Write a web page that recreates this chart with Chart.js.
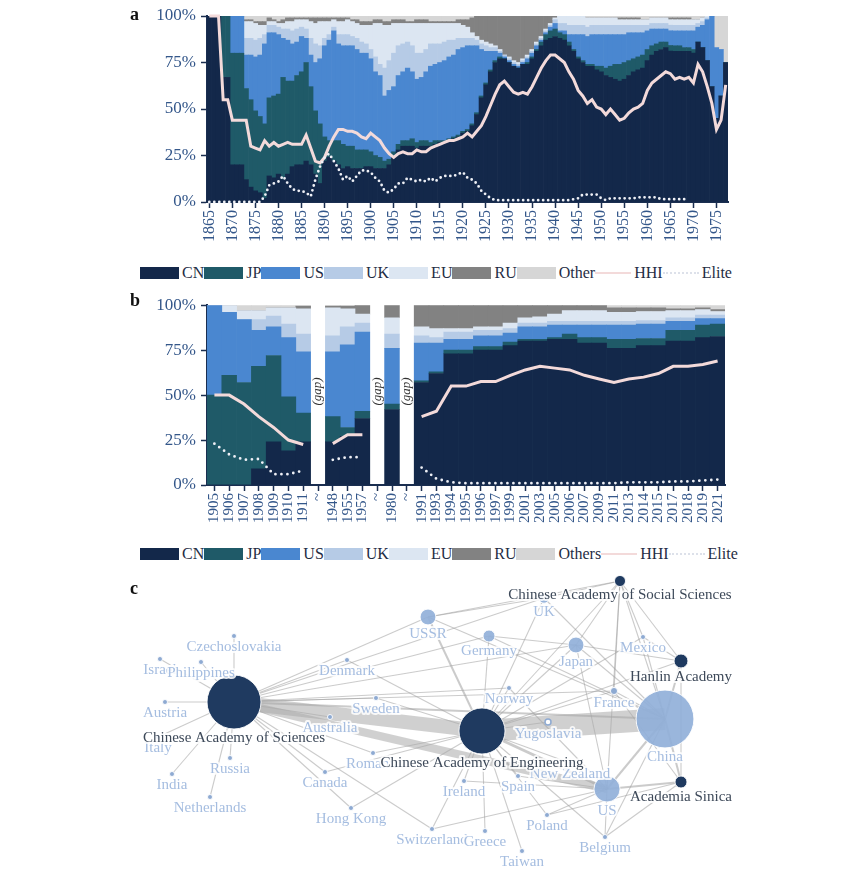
<!DOCTYPE html>
<html>
<head>
<meta charset="utf-8">
<script src="https://cdn.jsdelivr.net/npm/chart.js@4.4.1/dist/chart.umd.min.js"></script>
<style>
  html, body { margin: 0; padding: 0; background: #fff; }
  body { width: 864px; height: 872px; position: relative; overflow: hidden; font-family: "Liberation Serif", "DejaVu Serif", serif; }
  .box { position: absolute; }
  .letter { position: absolute; font-weight: bold; font-size: 18px; line-height: 20px; color: #111; z-index: 5; }
  .legend { position: absolute; left: 140px; width: 592px; height: 18px; display: flex; justify-content: space-between; align-items: center; font-size: 16px; color: #1f2d44; }
  .legend .item { display: flex; align-items: center; }
  .legend .sw { width: 39px; height: 12px; margin-right: 3px; }
  .legend .ln { width: 36px; height: 0; margin-right: 3px; }
</style>
</head>
<body>
<div class="letter" style="left:130px;top:4px">a</div>
<div class="box" style="left:130px;top:0;width:610px;height:262px"><canvas id="chartA"></canvas></div>
<div class="legend" id="legendA" style="top:264px"></div>

<div class="letter" style="left:130px;top:290px">b</div>
<div class="box" style="left:130px;top:290px;width:610px;height:252px"><canvas id="chartB"></canvas></div>
<div class="legend" id="legendB" style="top:545px"></div>

<div class="letter" style="left:130px;top:578px">c</div>
<div class="box" style="left:130px;top:575px;width:620px;height:297px"><canvas id="chartC"></canvas></div>

<script>
// ── Data: panel a (yearly shares, %) ─────────────────────
const YEARS_A = [
  1865,1866,1867,1868,1869,1870,1871,1872,1873,1874,
  1875,1876,1877,1878,1879,1880,1881,1882,1883,1884,
  1885,1886,1887,1888,1889,1890,1891,1892,1893,1894,
  1895,1896,1897,1898,1899,1900,1901,1902,1903,1904,
  1905,1906,1907,1908,1909,1910,1911,1912,1913,1914,
  1915,1916,1917,1918,1919,1920,1921,1922,1923,1924,
  1925,1926,1927,1928,1929,1930,1931,1932,1933,1934,
  1935,1936,1937,1938,1939,1940,1941,1942,1943,1944,
  1945,1946,1947,1948,1949,1950,1951,1952,1953,1954,
  1955,1956,1957,1958,1959,1960,1961,1962,1963,1964,
  1965,1966,1967,1968,1969,1970,1971,1972,1973,1974,
  1975,1976,1977];

const CN_A = [
  100,100,100,67,67,20,20,20,12,8,
  6,5,2,14,13,15,12,15,19,20,
  20,22,20,15,10,22,24,22,20,18,
  19,18,18,18,19,19,18,18,18,20,
  24,28,30,30,30,29,30,30,30,31,
  32,32,33,34,35,37,38,41,47,56,
  63,70,75,77,77,75,73,72,74,74,
  77,81,84,87,88,89,88,87,84,81,
  77,75,73,73,71,70,68,67,66,65,
  66,68,70,71,72,76,79,81,82,83,
  82,81,81,81,81,80,86,83,76,62,
  45,57,75];
const JP_A = [
  0,0,0,33,33,60,60,60,49,47,
  43,41,40,42,44,43,55,50,46,48,
  50,53,42,34,32,13,9,11,13,13,
  11,12,10,10,9,8,7,6,4,3,
  3,3,3,3,4,3,3,3,2,2,
  1,1,1,1,1,1,1,1,1,1,
  1,1,1,1,0,0,0,0,0,1,
  1,1,2,3,4,4,3,3,2,1,
  1,1,1,1,2,3,4,6,8,9,
  9,8,7,7,7,6,5,4,4,3,
  3,3,3,2,2,2,0,0,0,0,
  0,0,0];
const US_A = [
  0,0,0,0,0,20,20,20,18,24,
  29,33,43,35,34,32,21,22,20,18,
  19,13,17,26,35,49,54,59,52,53,
  54,54,54,52,52,50,45,44,35,37,
  35,37,37,39,36,34,34,37,41,41,
  42,43,44,44,46,45,45,42,36,25,
  17,10,5,2,1,1,1,1,1,2,
  2,2,1,1,2,3,1,2,4,8,
  12,14,15,16,17,17,18,17,16,16,
  15,15,14,13,12,10,9,8,7,7,
  8,8,8,9,9,10,8,12,22,38,
  38,25,0];
const UK_A = [
  0,0,0,0,0,0,0,0,9,9,
  9,9,5,4,4,4,5,6,7,7,
  5,5,9,10,7,4,3,2,5,6,
  6,5,6,6,5,5,8,6,15,16,
  18,16,15,14,14,14,13,12,12,11,
  10,10,9,8,6,5,4,4,3,3,
  3,2,2,1,1,1,1,1,1,1,
  1,1,1,1,1,2,4,4,5,5,
  5,5,5,5,5,5,5,5,5,5,
  5,4,4,4,4,3,3,3,3,3,
  3,3,3,3,3,3,2,2,1,0,
  0,0,0];
const EU_A = [
  0,0,0,0,0,0,0,0,9,9,
  9,7,5,2,2,2,3,4,5,5,
  4,5,9,11,13,9,7,4,7,7,
  8,8,8,9,10,13,18,22,23,19,
  16,12,11,10,12,16,16,14,11,11,
  11,10,9,9,8,7,6,3,2,2,
  2,2,1,1,0,1,1,1,1,1,
  1,1,1,1,1,1,4,4,5,5,
  5,5,5,4,4,4,4,4,4,3,
  3,3,3,3,3,3,3,3,3,3,
  3,3,3,3,3,3,2,2,1,0,
  0,0,0];
const RU_A = [
  0,0,0,0,0,0,0,0,1,1,
  1,2,2,2,1,1,2,2,2,1,
  1,1,2,3,2,2,2,1,2,2,
  1,1,2,2,2,2,2,2,2,2,
  2,2,2,1,1,2,2,2,1,1,
  1,1,1,1,2,3,4,8,11,13,
  14,15,16,18,21,22,24,25,23,21,
  18,14,11,7,4,1,0,0,0,0,
  0,0,0,0,0,0,0,0,0,1,
  1,1,1,1,0,0,0,0,0,0,
  1,1,1,1,1,0,0,0,0,0,
  0,0,0];
const OTHER_A = [
  0,0,0,0,0,0,0,0,2,2,
  3,3,3,1,2,3,2,1,1,1,
  1,1,1,1,1,1,1,1,1,1,
  1,2,2,3,3,3,2,2,3,3,
  2,2,2,3,3,2,2,2,3,3,
  3,3,3,3,2,2,2,1,0,0,
  0,0,0,0,0,0,0,0,0,0,
  0,0,0,0,0,0,0,0,0,0,
  0,0,1,1,1,1,1,1,1,1,
  1,1,1,1,2,2,1,1,1,1,
  1,1,1,1,1,2,2,1,0,0,
  17,18,25];
const HHI_A = [
  100,100,100,55,55,44,44,44,44,30,
  29,28,33,30,32,30,31,32,31,31,
  31,36,29,22,21,24,30,35,39,39,
  38,38,37,35,34,37,35,33,29,26,
  24,26,27,26,26,28,27,27,29,30,
  31,32,33,33,34,35,37,35,38,41,
  46,52,58,63,65,62,59,58,59,58,
  62,67,72,76,79,79,77,75,70,66,
  60,57,53,55,51,50,47,50,47,44,
  45,48,50,51,53,60,64,66,68,70,
  69,66,67,66,67,64,74,70,62,53,
  39,44,63];
const ELITE_A = [
  0,0,0,0,0,0,0,0,0,0,
  0,0,3,9,10,11,14,10,7,6,
  6,5,3,12,19,24,26,22,18,12,
  14,11,14,17,17,16,13,11,6,5,
  7,10,10,13,12,11,12,11,13,11,
  13,14,14,14,15,16,13,12,10,6,
  4,2,1,1,1,1,1,1,1,1,
  1,1,1,1,1,1,1,1,1,1.5,
  2,4,4,4,4,2,1,2,2,2,
  2,2,2,2.5,2.5,2.5,2.5,2.5,1.5,1.5,
  1.5,1.5,1.5,1.5,1.5,null,null,null,null,null,
  null,null,null];

// ── Data: panel b (selected years, %) ────────────────────
const LABELS_B = ['1905','1906','1907','1908','1909','1910','1911','~','1948','1955','1957','~','1980','~',
  '1991','1993','1994','1995','1996','1997','1999','2001','2003','2005','2006','2007','2009','2011',
  '2013','2014','2015','2017','2018','2019','2021'];
const CN_B    = [0,0,0,9,24,19,24,null,24,27,37,null,42,null,57,62,73,73,75,75,77.5,80,80,81,81,79,79,76,76,77.5,77.5,80,80,82,83];
const JP_B    = [50,61,57,57,48,30,16,null,14,5,4,null,3,null,1,1,2,2,2,2,2,1,1,1,3,3,3,5,5,4,4,6,6,7,7];
const US_B    = [50,35,35,20,16,33,34,null,36,46,44,null,31,null,21,16,6,6,6,6,5,7,7,7,5,7,7,8,8,8,8,5,5,3.5,3];
const UK_B    = [0,0,0,6,6,7.5,10,null,9,10,5,null,8,null,4,3,4,4,3,3,2.5,2,2,2,2,2,2,2,2,2,2,2,2,2,2];
const EU_B    = [0,4,5,5,4.5,9,14,null,15.5,10,5,null,9,null,5,5,2,2,2,2,3,3,3.5,4,6,6,6,5,5,5,5,4,4,3,2];
const RU_B    = [0,0,0,0,0,0,1.5,null,1,1.5,5,null,7,null,12,13,13,13,12,12,10,7,6.5,5,3,3,3,2.5,2.5,2,2,1,1,1,1];
const OTHER_B = [0,0,3,3,1.5,1.5,0.5,null,0.5,0.5,0,null,0,null,0,0,0,0,0,0,0,0,0,0,0,0,0,1.5,1.5,1.5,1.5,2,2,1.5,2.5];
const HHI_B   = [50,50,45,38,32,25,22.5,null,23,28,28,null,null,null,38,41,55,55,57.5,57.5,61,64,66,65,64,61,59,57,59,60,62,66,66,67,69];
const ELITE_B = [23,17,14,14.5,6,6,8,null,14,15.5,15.5,null,null,null,9.7,3.5,1.5,1,1,1,1,1,1,1,1,1,1,1,1.5,1.5,1.5,2,2,2.5,3];
const GAP_LABEL_LEVEL = 52;

const Y_TICKS = [0, 25, 50, 75, 100];

// ── Data: panel c (co-membership network) ────────────────
const NODE_IDS = ['CAS','CAE','China','US','Japan','USSR','Germany','UK','CASS','Hanlin','Sinica','Mexico',
  'France','Yugoslavia','Norway','NewZealand','Spain','Ireland','Poland','Belgium','Taiwan','Switzerland',
  'Greece','HongKong','Canada','Romania','Australia','Sweden','Denmark','Czechoslovakia','Israel',
  'Philippines','Austria','Italy','Russia','India','Netherlands'];
const NODE_LABELS = ['Chinese Academy of Sciences','Chinese Academy of Engineering','China','US','Japan','USSR',
  'Germany','UK','Chinese Academy of Social Sciences','Hanlin Academy','Academia Sinica','Mexico','France',
  'Yugoslavia','Norway','New Zealand','Spain','Ireland','Poland','Belgium','Taiwan','Switzerland','Greece',
  'Hong Kong','Canada','Romania','Australia','Sweden','Denmark','Czechoslovakia','Israel','Philippines',
  'Austria','Italy','Russia','India','Netherlands'];
const NODE_X = [104,352,535,477,446,298,359,414,490,551,551,513,484,418,379,440,388,334,417,475,392,302,355,221,195,243,200,246,217,104,30,71,35,28,100,42,80];
const NODE_Y = [127,156,144,214,70,42,61,23,6,86,207,62,116,147,113,188,201,206,240,262,276,254,256,233,197,178,142,123,85,61,84,87,127,162,183,199,222];
const NODE_WEIGHT = [81,59,93,19,7,7,4,3,3.4,5.4,4,0.7,1.4,1,0.7,0.7,0.7,0.7,0.7,0.7,0.7,0.7,0.7,0.7,0.7,0.7,0.7,0.7,0.7,0.7,0.7,0.7,0.7,0.7,0.7,0.7,0.7];
const NODE_KIND = ['inst','inst','country','country','country','country','country','country','inst','inst','inst',
  'minor','minor','hollow','minor','minor','minor','minor','minor','minor','minor','minor','minor','minor',
  'minor','minor','minor','minor','minor','minor','minor','minor','minor','minor','minor','minor','minor'];
const EDGES = [
  ['CAS','CAE',14], ['CAE','China',22], ['CAS','US',8], ['CAS','China',2], ['CAE','US',3], ['CAE','USSR',2],
  ['CAS','USSR',1], ['CAS','UK',1], ['CAS','Germany',1], ['CAS','Japan',1], ['CAS','Denmark',1], ['CAS','Sweden',1],
  ['CAS','Australia',1], ['CAS','Canada',1], ['CAS','Romania',1], ['CAS','HongKong',1], ['CAS','Switzerland',1],
  ['CAS','Czechoslovakia',1], ['CAS','Israel',1], ['CAS','Philippines',1], ['CAS','Austria',1], ['CAS','Italy',1],
  ['CAS','India',1], ['CAS','Russia',1], ['CAS','Netherlands',1], ['CAS','France',1], ['CAS','Norway',1],
  ['CAE','UK',1], ['CAE','Germany',1], ['CAE','Japan',1], ['CAE','Norway',1], ['CAE','France',1],
  ['CAE','Yugoslavia',1], ['CAE','Spain',1], ['CAE','Ireland',1], ['CAE','Greece',1], ['CAE','Taiwan',1],
  ['CAE','Poland',1], ['CAE','Belgium',1], ['CAE','HongKong',1], ['CAE','Switzerland',1], ['CAE','Romania',1],
  ['CAE','Mexico',1], ['CAE','CASS',1], ['CAE','Hanlin',1], ['CAE','Sweden',1], ['CAE','Canada',1],
  ['CAE','Denmark',1], ['CAE','NewZealand',1],
  ['China','CASS',1], ['China','Hanlin',2], ['China','Sinica',2], ['China','Japan',1], ['China','UK',1],
  ['China','France',1], ['China','Mexico',1], ['China','US',2], ['China','Belgium',1], ['China','Germany',1],
  ['China','USSR',1],
  ['CASS','UK',1], ['CASS','USSR',1], ['CASS','Japan',1], ['CASS','Mexico',1], ['CASS','US',1], ['CASS','France',1],
  ['CASS','Hanlin',1], ['Hanlin','Japan',1], ['Hanlin','Mexico',1], ['Hanlin','Sinica',1],
  ['Sinica','US',2], ['Sinica','Belgium',1], ['Sinica','France',1], ['Sinica','Poland',1],
  ['US','Belgium',1], ['US','Poland',1], ['US','Spain',1], ['US','Switzerland',1], ['US','Japan',1],
  ['US','Norway',1], ['US','Ireland',1], ['Japan','Germany',1], ['USSR','UK',1]
];

// ── Styles ───────────────────────────────────────
const FONT = '"Liberation Serif", "DejaVu Serif", serif';
const NAVY = '#1a2e50';
const TICK_COLOR = '#34578a';
const SERIES_COLORS = ['#13284a', '#1f5a68', '#4a87d0', '#b6cbe6', '#dce6f2', '#828282', '#d6d6d6'];
const HHI_COLOR = '#f3dada';
const ELITE_COLOR = '#eef0f6';

// scale each year's shares so the stack fills 100%
function normalize(list) {
  return list.map((s) => s.map((v, i) => {
    if (v == null) return null;
    const tot = list.reduce((a, t) => a + (t[i] || 0), 0);
    return tot ? (v / tot) * 100 : 0;
  }));
}

function barSets(names, list) {
  return normalize(list).map((data, i) => ({
    type: 'bar', label: names[i], data,
    backgroundColor: SERIES_COLORS[i], borderWidth: 0,
    barPercentage: 1, categoryPercentage: 1, stack: 'shares', order: 3,
  }));
}

function lineSets(hhi, elite, dotGap) {
  return [
    { type: 'line', label: 'HHI', data: hhi, stack: 'hhi', borderColor: HHI_COLOR, borderWidth: 3,
      pointRadius: 0, tension: 0, spanGaps: false, order: 1, clip: false },
    { type: 'line', label: 'Elite', data: elite, stack: 'elite', borderColor: ELITE_COLOR, borderWidth: 2.8,
      borderDash: [0, dotGap], borderCapStyle: 'round', pointRadius: 0, spanGaps: false, order: 0, clip: false },
  ];
}

function axisOptions({ xFont, xHeight, padding, xCallback }) {
  return {
    responsive: true, maintainAspectRatio: false, animation: false, events: [],
    layout: { padding },
    plugins: { legend: { display: false }, tooltip: { enabled: false } },
    scales: {
      x: {
        stacked: true, offset: true,
        grid: { display: true, offset: false, drawOnChartArea: false, drawTicks: true, tickLength: 6,
                tickColor: NAVY, tickWidth: 1.5 },
        border: { display: true, color: NAVY, width: 2 },
        ticks: { autoSkip: false, maxRotation: 90, minRotation: 90, padding: 2, color: TICK_COLOR,
                 font: { family: FONT, size: xFont }, callback: xCallback },
        afterFit: (s) => { s.height = xHeight; },
      },
      y: {
        stacked: true, min: 0, max: 100,
        afterBuildTicks: (s) => { s.ticks = Y_TICKS.map((v) => ({ value: v })); },
        ticks: { callback: (v) => v + '%', color: TICK_COLOR, padding: 5, font: { family: FONT, size: 17 } },
        grid: { drawOnChartArea: false, tickLength: 6, tickColor: NAVY, tickWidth: 1.5 },
        border: { display: true, color: NAVY, width: 2 },
        afterFit: (s) => { s.width = 77; },
      },
    },
  };
}

function buildLegend(id, names) {
  const el = document.getElementById(id);
  let html = names.map((n, i) =>
    `<span class="item"><span class="sw" style="background:${SERIES_COLORS[i]}"></span>${n}</span>`).join('');
  html += `<span class="item"><span class="ln" style="border-top:2px solid ${HHI_COLOR}"></span>HHI</span>`;
  html += `<span class="item"><span class="ln" style="border-top:2px dotted #dde1ea"></span>Elite</span>`;
  el.innerHTML = html;
}

// ── Panel a ───────────────────────────────────────
const NAMES_A = ['CN', 'JP', 'US', 'UK', 'EU', 'RU', 'Other'];
new Chart(document.getElementById('chartA'), {
  type: 'bar',
  data: {
    labels: YEARS_A,
    datasets: [
      ...barSets(NAMES_A, [CN_A, JP_A, US_A, UK_A, EU_A, RU_A, OTHER_A]),
      ...lineSets(HHI_A, ELITE_A, 5),
    ],
  },
  options: axisOptions({
    xFont: 16, xHeight: 60, padding: { top: 16, right: 12, left: 0, bottom: 0 },
    xCallback: (v, i) => (YEARS_A[i] % 5 === 0 ? String(YEARS_A[i]) : null),
  }),
});
buildLegend('legendA', NAMES_A);

// ── Panel b ───────────────────────────────────────
const gapLabels = {
  id: 'gapLabels',
  afterDatasetsDraw(chart) {
    const { ctx, scales: { x, y } } = chart;
    ctx.save();
    ctx.font = `italic 13px ${FONT}`;
    ctx.fillStyle = '#333';
    ctx.textAlign = 'center';
    ctx.textBaseline = 'middle';
    LABELS_B.forEach((l, i) => {
      if (l !== '~') return;
      ctx.save();
      ctx.translate(x.getPixelForValue(i), y.getPixelForValue(GAP_LABEL_LEVEL));
      ctx.rotate(-Math.PI / 2);
      ctx.fillText('(gap)', 0, 0);
      ctx.restore();
    });
    ctx.restore();
  },
};

const NAMES_B = ['CN', 'JP', 'US', 'UK', 'EU', 'RU', 'Others'];
new Chart(document.getElementById('chartB'), {
  type: 'bar',
  data: {
    labels: LABELS_B,
    datasets: [
      ...barSets(NAMES_B, [CN_B, JP_B, US_B, UK_B, EU_B, RU_B, OTHER_B]),
      ...lineSets(HHI_B, ELITE_B, 6),
    ],
  },
  options: axisOptions({
    xFont: 15, xHeight: 57, padding: { top: 12, right: 15, left: 0, bottom: 0 },
    xCallback: (v, i) => LABELS_B[i],
  }),
  plugins: [gapLabels],
});
buildLegend('legendB', NAMES_B);

// ── Panel c ───────────────────────────────────────
const KIND_FILL = { inst: '#1f3a60', country: 'rgba(145,176,217,0.92)', minor: '#8eaad2', hollow: '#ffffff' };
const radiusOf = (w) => 3 * Math.sqrt(w);
const idx = (id) => NODE_IDS.indexOf(id);

const edgeSets = EDGES.map(([a, b, w]) => ({
  type: 'line',
  data: [{ x: NODE_X[idx(a)], y: NODE_Y[idx(a)] }, { x: NODE_X[idx(b)], y: NODE_Y[idx(b)] }],
  borderColor: w >= 8 ? 'rgba(170,170,170,0.55)' : 'rgba(160,160,160,0.55)',
  borderWidth: w >= 8 ? w : Math.max(1.1, w),
  borderCapStyle: 'butt', pointRadius: 0, order: 2, clip: false,
}));

const nodeSet = {
  type: 'bubble',
  data: NODE_IDS.map((_, i) => ({ x: NODE_X[i], y: NODE_Y[i], r: radiusOf(NODE_WEIGHT[i]) })),
  backgroundColor: NODE_KIND.map((k) => KIND_FILL[k]),
  borderColor: NODE_KIND.map((k) => (k === 'hollow' ? '#8eaad2' : 'rgba(255,255,255,0.9)')),
  borderWidth: NODE_KIND.map((k) => (k === 'hollow' ? 1.5 : 1)),
  order: 1, clip: false,
};

const nodeLabels = {
  id: 'nodeLabels',
  afterDatasetsDraw(chart) {
    const { ctx, scales: { x, y } } = chart;
    ctx.save();
    ctx.font = `15px ${FONT}`;
    ctx.textAlign = 'center';
    ctx.textBaseline = 'middle';
    ctx.lineJoin = 'round';
    const draw = (i) => {
      const px = x.getPixelForValue(NODE_X[i]);
      const py = y.getPixelForValue(NODE_Y[i]) + radiusOf(NODE_WEIGHT[i]) + 9;
      ctx.strokeStyle = 'rgba(255,255,255,0.85)';
      ctx.lineWidth = 4;
      ctx.strokeText(NODE_LABELS[i], px, py);
      ctx.fillStyle = NODE_KIND[i] === 'inst' ? '#3d4959' : '#a5bde0';
      ctx.fillText(NODE_LABELS[i], px, py);
    };
    NODE_IDS.forEach((_, i) => { if (NODE_KIND[i] !== 'inst') draw(i); });
    NODE_IDS.forEach((_, i) => { if (NODE_KIND[i] === 'inst') draw(i); });
    ctx.restore();
  },
};

new Chart(document.getElementById('chartC'), {
  type: 'bubble',
  data: { datasets: [...edgeSets, nodeSet] },
  options: {
    responsive: true, maintainAspectRatio: false, animation: false, events: [],
    layout: { padding: 0, autoPadding: false },
    plugins: { legend: { display: false }, tooltip: { enabled: false } },
    scales: {
      x: { type: 'linear', min: 0, max: 620, display: false },
      y: { type: 'linear', min: 0, max: 297, reverse: true, display: false },
    },
  },
  plugins: [nodeLabels],
});
</script>
</body>
</html>
